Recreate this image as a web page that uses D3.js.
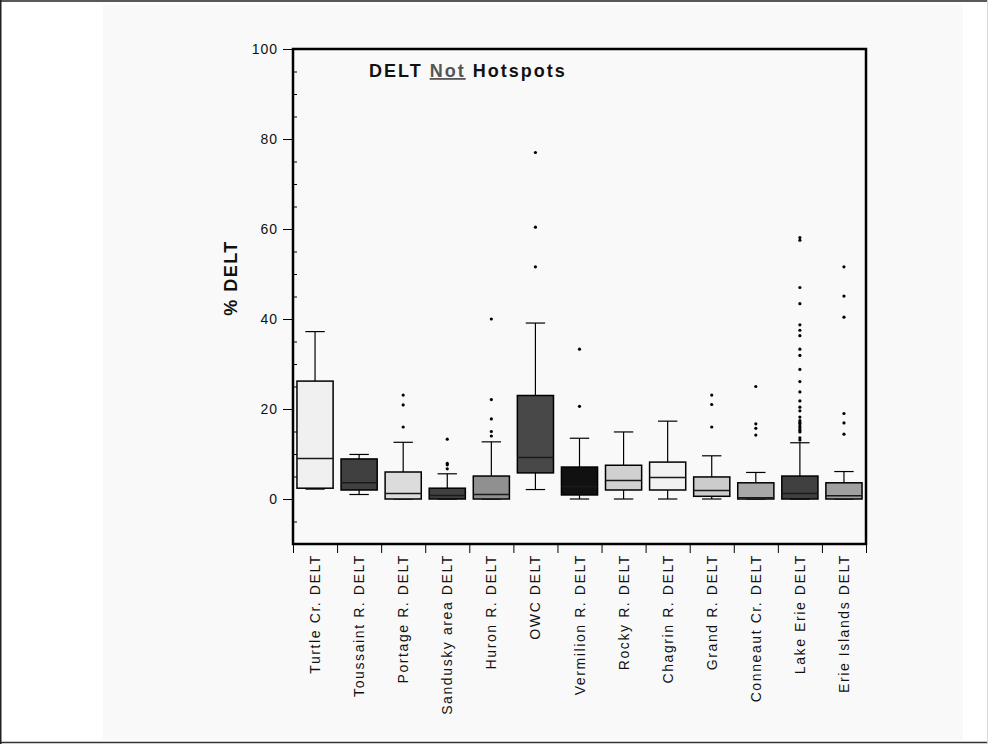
<!DOCTYPE html>
<html>
<head>
<meta charset="utf-8">
<script src="https://cdn.jsdelivr.net/npm/d3@7"></script>
<style>
  html, body { margin: 0; padding: 0; background: #ffffff; }
  svg { display: block; }
</style>
</head>
<body>
<svg id="chart" width="988" height="744"></svg>
<script>
// ---- data ----
const categories = ["Turtle Cr. DELT", "Toussaint R. DELT", "Portage R. DELT", "Sandusky area DELT",
  "Huron R. DELT", "OWC DELT", "Vermilion R. DELT", "Rocky R. DELT", "Chagrin R. DELT",
  "Grand R. DELT", "Conneaut Cr. DELT", "Lake Erie DELT", "Erie Islands DELT"];
const whiskerLow  = [2.2, 1.0, 0.0, 0.0, 0.0, 2.1, 0.0, 0.0, 0.0, 0.0, 0.0, 0.0, 0.0];
const q1          = [2.4, 2.0, 0.0, 0.0, 0.0, 5.8, 0.9, 2.0, 2.0, 0.6, 0.0, 0.0, 0.0];
const medians     = [9.0, 3.6, 1.2, 0.8, 1.0, 9.2, 2.7, 4.1, 4.8, 1.9, 0.3, 1.2, 0.7];
const q3          = [26.2, 8.9, 6.0, 2.4, 5.1, 23.0, 7.1, 7.5, 8.2, 4.9, 3.6, 5.1, 3.6];
const whiskerHigh = [37.2, 9.9, 12.6, 5.6, 12.7, 39.1, 13.5, 14.9, 17.3, 9.6, 5.9, 12.5, 6.1];
const outliers = [
  [],
  [],
  [23.1, 20.9, 16.0],
  [13.3, 7.9, 7.6, 6.7],
  [40.0, 22.1, 17.8, 15.0, 14.0],
  [77.0, 60.4, 51.6],
  [33.3, 20.6],
  [],
  [],
  [23.1, 21.0, 16.0],
  [25.0, 16.7, 15.7, 14.2],
  [58.1, 57.5, 47.0, 43.4, 38.7, 37.5, 36.3, 33.3, 31.9, 28.8, 26.1, 23.8, 21.8, 20.4, 19.6,
   18.2, 17.4, 17.0, 16.7, 16.2, 15.8, 15.3, 14.9, 13.6, 13.1],
  [51.6, 45.1, 40.4, 19.0, 16.9, 14.4]
];
const majorTicks = [0, 20, 40, 60, 80, 100];
const minorTicks = [-5, 5, 10, 15, 25, 30, 35, 45, 50, 55, 65, 70, 75, 85, 90, 95];
const yDomain = [-10, 100];
const titleParts = ["DELT ", "Not", " Hotspots"];
const yLabel = "% DELT";

// ---- styles ----
const fills = ["#f0f0f0", "#404040", "#dcdcdc", "#404040", "#909090", "#484848", "#111111",
  "#d0d0d0", "#f2f2f2", "#cccccc", "#a8a8a8", "#404040", "#a0a0a0"];

const svg = d3.select("#chart");
const W = 988, H = 744;
const plot = { left: 293, right: 866, top: 49, bottom: 544 };

// outer frame & panel
svg.append("rect").attr("x", 0).attr("y", 0).attr("width", W).attr("height", H).attr("fill", "#ffffff");
svg.append("rect").attr("x", 103).attr("y", 5).attr("width", 860).attr("height", 735).attr("fill", "#f9f9f9");
svg.append("line").attr("x1", 0).attr("x2", W).attr("y1", 1).attr("y2", 1).attr("stroke", "#222").attr("stroke-width", 1.5);
svg.append("line").attr("x1", 0).attr("x2", W).attr("y1", 742.5).attr("y2", 742.5).attr("stroke", "#333").attr("stroke-width", 1.5);
svg.append("line").attr("x1", 0.75).attr("x2", 0.75).attr("y1", 0).attr("y2", H).attr("stroke", "#222").attr("stroke-width", 1.5);
svg.append("line").attr("x1", 987.5).attr("x2", 987.5).attr("y1", 0).attr("y2", H).attr("stroke", "#d8d8d8").attr("stroke-width", 1);

const y = d3.scaleLinear().domain(yDomain).range([plot.bottom, plot.top]);
const x = d3.scaleBand().domain(categories).range([plot.left, plot.right]).paddingInner(0).paddingOuter(0);
const bw = x.bandwidth();
const boxW = bw * 0.82;
const capW = bw * 0.44;

// y axis major (outward) ticks
const yAxis = d3.axisLeft(y).tickValues(majorTicks).tickSize(10).tickPadding(5).tickFormat(d3.format("d"));
const gy = svg.append("g").attr("transform", `translate(${plot.left},0)`).call(yAxis);
gy.select(".domain").remove();
gy.selectAll(".tick line").attr("stroke", "#000").attr("stroke-width", 1);
gy.selectAll(".tick text").attr("font-family", "Liberation Sans, Arial, sans-serif")
  .attr("font-size", 14).attr("letter-spacing", "1px").attr("fill", "#111");

// y axis minor (inward) ticks
const yMinor = d3.axisLeft(y).tickValues(minorTicks).tickSize(-4).tickFormat("");
const gym = svg.append("g").attr("transform", `translate(${plot.left},0)`).call(yMinor);
gym.select(".domain").remove();
gym.selectAll(".tick line").attr("stroke", "#000").attr("stroke-width", 1);

// x axis ticks at band boundaries
const boundaries = categories.map(c => x(c)).concat([plot.right]);
const xb = d3.scaleLinear().domain([plot.left, plot.right]).range([plot.left, plot.right]);
const xAxis = d3.axisBottom(xb).tickValues(boundaries).tickSize(9).tickFormat("");
const gx = svg.append("g").attr("transform", `translate(0,${plot.bottom})`).call(xAxis);
gx.select(".domain").remove();
gx.selectAll(".tick line").attr("stroke", "#000").attr("stroke-width", 1);

// x labels
svg.append("g").selectAll("text").data(categories).join("text")
  .attr("transform", d => `translate(${x(d) + bw / 2 + 5},${plot.bottom + 10}) rotate(-90)`)
  .attr("text-anchor", "end")
  .attr("font-family", "Liberation Sans, Arial, sans-serif")
  .attr("font-size", 14)
  .attr("letter-spacing", "1.6px")
  .attr("fill", "#111")
  .text(d => d);

// boxes
const g = svg.append("g");
categories.forEach((c, i) => {
  const cx = x(c) + bw / 2;
  // whisker line
  g.append("line").attr("x1", cx).attr("x2", cx)
    .attr("y1", y(whiskerHigh[i])).attr("y2", y(whiskerLow[i]))
    .attr("stroke", "#000").attr("stroke-width", 1.2);
  // caps
  [whiskerHigh[i], whiskerLow[i]].forEach(v => {
    g.append("line").attr("x1", cx - capW / 2).attr("x2", cx + capW / 2)
      .attr("y1", y(v)).attr("y2", y(v)).attr("stroke", "#000").attr("stroke-width", 1.2);
  });
  // box
  g.append("rect").attr("x", cx - boxW / 2).attr("width", boxW)
    .attr("y", y(q3[i])).attr("height", Math.max(1, y(q1[i]) - y(q3[i])))
    .attr("fill", fills[i]).attr("stroke", "#000").attr("stroke-width", 1.5);
  // median
  g.append("line").attr("x1", cx - boxW / 2).attr("x2", cx + boxW / 2)
    .attr("y1", y(medians[i])).attr("y2", y(medians[i]))
    .attr("stroke", "#1a1a1a").attr("stroke-width", 1.5);
  // outliers
  g.selectAll(null).data(outliers[i]).join("circle")
    .attr("cx", cx).attr("cy", d => y(d)).attr("r", 1.6).attr("fill", "#000");
});

// plot frame
svg.append("rect").attr("x", plot.left).attr("y", plot.top)
  .attr("width", plot.right - plot.left).attr("height", plot.bottom - plot.top)
  .attr("fill", "none").attr("stroke", "#000").attr("stroke-width", 2.5);

// title
const title = svg.append("text").attr("x", 369).attr("y", 77)
  .attr("font-family", "Liberation Sans, Arial, sans-serif")
  .attr("font-size", 18).attr("font-weight", "bold").attr("letter-spacing", "2px").attr("fill", "#111");
title.append("tspan").text(titleParts[0]);
title.append("tspan").text(titleParts[1]).attr("fill", "#555").attr("text-decoration", "underline");
title.append("tspan").text(titleParts[2]);

// y label
svg.append("text")
  .attr("transform", "translate(237,278) rotate(-90)")
  .attr("text-anchor", "middle")
  .attr("font-family", "Liberation Sans, Arial, sans-serif")
  .attr("font-size", 18).attr("font-weight", "bold").attr("letter-spacing", "1.5px").attr("fill", "#111")
  .text(yLabel);
</script>
</body>
</html>
